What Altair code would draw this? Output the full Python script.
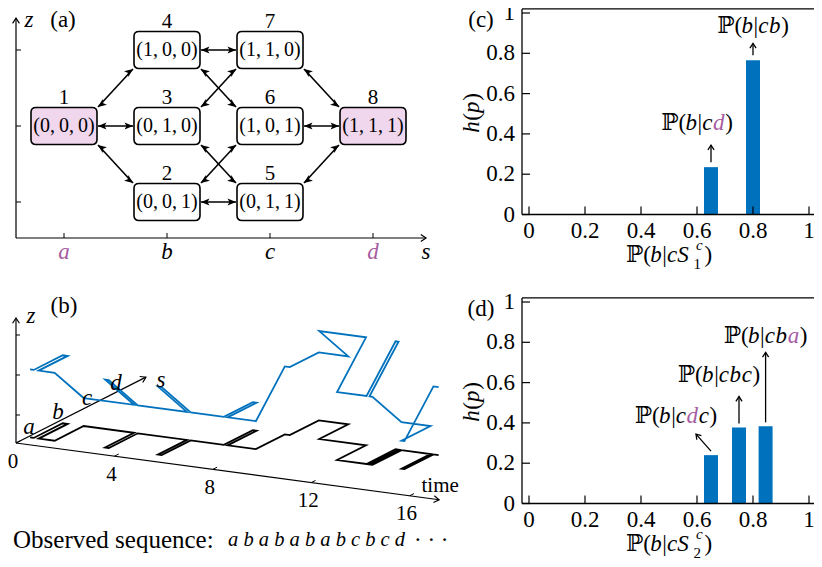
import math
import altair as alt
import pandas as pd

FONT = "Liberation Serif, DejaVu Serif"
BLACK = "#000000"
PURPLE = "#A65CA2"
PINK = "#F0D7EE"
BLUE = "#0072BD"
FS = 23

# ---------------- data ----------------
# (a) states: position on s (0=a ... 3=d) and level z
node_id = [1, 2, 3, 4, 5, 6, 7, 8]
node_s = [0, 1, 1, 1, 2, 2, 2, 3]
node_z = [2, 1, 2, 3, 1, 2, 3, 2]
node_bits = ["000", "001", "010", "100", "011", "101", "110", "111"]
node_marked = [1, 0, 0, 0, 0, 0, 0, 1]
edge_from = [1, 1, 1, 4, 3, 4, 3, 2, 2, 6, 7, 5]
edge_to = [2, 3, 4, 7, 7, 6, 5, 6, 5, 8, 8, 8]
s_names = ["a", "b", "c", "d"]
s_marked = [1, 0, 0, 1]
z_levels = [1, 2, 3]

# (b) sample path: jump times and the state entered at each jump
jump_times = [0.1, 0.25, 0.45, 1.1, 3.15, 3.3, 5.3, 5.45, 6.8, 6.95, 8.1, 8.3,
              9.5, 11.4, 12.6, 12.72, 12.84, 14.02, 14.14]
jump_nodes = [1, 3, 1, 2, 1, 2, 1, 2, 5, 2, 6, 8, 7, 3, 7, 3, 5, 2, 6]
t_end = 14.35
time_ticks = [0, 4, 8, 12, 16]
observed = ["a", "b", "a", "b", "a", "b", "a", "b", "c", "b", "c", "d"]

# (c), (d) histograms
c_p = [0.65, 0.80]
c_h = [0.235, 0.765]
c_cond = ["cd", "cb"]
c_cond_marked = ["01", "00"]
d_p = [0.65, 0.75, 0.845]
d_h = [0.24, 0.377, 0.383]
d_cond = ["cdc", "cbc", "cba"]
d_cond_marked = ["010", "000", "001"]
hist_ticks = [0, 0.2, 0.4, 0.6, 0.8, 1]

# ---------------- layout / helpers ----------------
W, H = 806, 559
OX, OY = 7, 3          # canvas offset
one = pd.DataFrame({"k": [0]})
STEALTH = "M0,0 L0.55,1.3 L0,1 L-0.55,1.3 Z"
CHEV = "M-0.65,1 L0,0 L0.65,1"
RBOX = ("M-0.85,-0.56 L0.85,-0.56 Q1,-0.56 1,-0.41 L1,0.41 Q1,0.56 0.85,0.56 "
        "L-0.85,0.56 Q-1,0.56 -1,0.41 L-1,-0.41 Q-1,-0.56 -0.85,-0.56 Z")

RM_W = {"(": .333, ")": .333, "|": .2, ",": .25, " ": .25, ".": .25, ":": .278,
        "\u2119": .72, "\u00b7": .25}
IT_W = {"a": .53, "b": .53, "c": .47, "d": .53, "h": .53, "p": .53, "s": .42,
        "z": .42, "S": .55}


def lin(d0, d1, r0, r1):
    return alt.Scale(domain=[d0, d1], range=[r0, r1], nice=False, zero=False)


def XD(v, sc):
    return alt.XDatum(v, scale=sc, axis=None)


def YD(v, sc):
    return alt.YDatum(v, scale=sc, axis=None)


def XF(f, sc):
    return alt.X(f, scale=sc, axis=None)


def YF(f, sc):
    return alt.Y(f, scale=sc, axis=None, stack=None)


def PX(v):
    return alt.value(v - OX)


def PY(v):
    return alt.value(v - OY)


def seg(t, it=False, col=BLACK, fs=None, ddy=0, adv=None):
    return dict(t=t, it=it, col=col, fs=fs, ddy=ddy, adv=adv)


def rich(segs, enc, fs=FS, dx=0.0, dy=0.0, angle=None):
    widths = []
    for s in segs:
        size = s["fs"] or fs
        if s["adv"] is not None:
            widths.append(s["adv"])
        else:
            tab = IT_W if s["it"] else RM_W
            widths.append(sum(tab.get(ch, .5) for ch in s["t"]) * size)
    x = dx - sum(widths) / 2
    out = []
    for s, w in zip(segs, widths):
        props = dict(text=s["t"], font=FONT, fontSize=s["fs"] or fs,
                     fontStyle="italic" if s["it"] else "normal", color=s["col"],
                     align="left", baseline="middle", dx=round(x, 2), dy=dy + s["ddy"])
        if angle is not None:
            props["angle"] = angle
        out.append(alt.Chart(one).mark_text(**props).encode(**enc))
        x += w
    return out


def txt(text, x, y, fs=FS, it=False, **kw):
    props = dict(text=text, font=FONT, fontSize=fs, baseline="middle", color=BLACK,
                 fontStyle="italic" if it else "normal")
    props.update(kw)
    return alt.Chart(one).mark_text(**props).encode(x=x, y=y)


def prob_label(cond, marked):
    segs = [seg("\u2119("), seg("b", True), seg("|")]
    for ch, m in zip(cond, marked):
        segs.append(seg(ch, True, PURPLE if m == "1" else BLACK))
    segs.append(seg(")"))
    return segs


L = []

# ---------------- panel (a) ----------------
SXA = lin(0, 3, 63 - OX, 372 - OX)
SYA = lin(1, 3, 197 - OY, 45 - OY)
kxA, kyA = (372 - 63) / 3, (197 - 45) / 2
A_S0, A_S1, A_Z0, A_Z1 = -0.466, 3.515, 0.526, 3.42

nodes = pd.DataFrame({
    "s": node_s, "z": node_z,
    "label": ["(" + ",\u2009".join(b) + ")" for b in node_bits],
    "num": [str(n) for n in node_id],
    "fill": [PINK if m else "#ffffff" for m in node_marked],
})
pos = {n: (s, z) for n, s, z in zip(node_id, node_s, node_z)}
erows = []
for f, t in zip(edge_from, edge_to):
    (s1, z1), (s2, z2) = pos[f], pos[t]
    ds, dz = s2 - s1, z2 - z1
    ang = math.degrees(math.atan2(ds * kxA, dz * kyA)) % 360
    erows.append(dict(xs=s1 + 0.33 * ds, ys=z1 + 0.25 * dz, xe=s2 - 0.33 * ds,
                      ye=z2 - 0.25 * dz, ae=ang, ab=(ang + 180) % 360))
edges = pd.DataFrame(erows)
sdf = pd.DataFrame({"s": list(range(len(s_names))), "name": s_names,
                    "col": [PURPLE if m else BLACK for m in s_marked]})
zdf = pd.DataFrame({"z": z_levels})

L += [
    alt.Chart(one).mark_rule(color=BLACK, strokeWidth=1.2).encode(
        x=XD(A_S0, SXA), y=YD(A_Z0, SYA), y2=alt.datum(A_Z1)),
    alt.Chart(one).mark_rule(color=BLACK, strokeWidth=1.2).encode(
        x=XD(A_S0, SXA), x2=alt.datum(A_S1), y=YD(A_Z0, SYA)),
    alt.Chart(one).mark_point(shape=CHEV, size=110, filled=False, stroke=BLACK,
                              strokeWidth=1.2, opacity=1, angle=0).encode(
        x=XD(A_S0, SXA), y=YD(A_Z1, SYA)),
    alt.Chart(one).mark_point(shape=CHEV, size=110, filled=False, stroke=BLACK,
                              strokeWidth=1.2, opacity=1, angle=90).encode(
        x=XD(A_S1, SXA), y=YD(A_Z0, SYA)),
    alt.Chart(sdf).mark_rule(color=BLACK, strokeWidth=1).encode(
        x=XF("s:Q", SXA), y=YD(A_Z0, SYA), y2=alt.datum(A_Z0 + 5 / kyA)),
    alt.Chart(zdf).mark_rule(color=BLACK, strokeWidth=1).encode(
        y=YF("z:Q", SYA), x=XD(A_S0, SXA), x2=alt.datum(A_S0 + 5 / kxA)),
    alt.Chart(sdf).mark_text(font=FONT, fontSize=FS, fontStyle="italic", baseline="middle",
                             dy=14).encode(x=XF("s:Q", SXA), y=YD(A_Z0, SYA), text="name:N",
                                           color=alt.Color("col:N", scale=None)),
    txt("s", XD(A_S1, SXA), YD(A_Z0, SYA), it=True, dy=14),
    txt("z", XD(A_S0, SXA), YD(A_Z1, SYA), it=True, dx=13, dy=2),
    txt("(a)", PX(62), PY(15)),
    alt.Chart(edges).mark_rule(color=BLACK, strokeWidth=1.6).encode(
        x=XF("xs:Q", SXA), y=YF("ys:Q", SYA), x2="xe:Q", y2="ye:Q"),
    alt.Chart(edges).mark_point(shape=STEALTH, size=170, filled=True, color=BLACK,
                                opacity=1).encode(x=XF("xe:Q", SXA), y=YF("ye:Q", SYA),
                                                  angle=alt.Angle("ae:Q", scale=None)),
    alt.Chart(edges).mark_point(shape=STEALTH, size=170, filled=True, color=BLACK,
                                opacity=1).encode(x=XF("xs:Q", SXA), y=YF("ys:Q", SYA),
                                                  angle=alt.Angle("ab:Q", scale=None)),
    alt.Chart(nodes).mark_point(shape=RBOX, size=66 ** 2, filled=True, stroke=BLACK,
                                strokeWidth=1.6, opacity=1).encode(
        x=XF("s:Q", SXA), y=YF("z:Q", SYA), fill=alt.Fill("fill:N", scale=None)),
    alt.Chart(nodes).mark_text(font=FONT, fontSize=20, baseline="middle", color=BLACK).encode(
        x=XF("s:Q", SXA), y=YF("z:Q", SYA), text="label:N"),
    alt.Chart(nodes).mark_text(font=FONT, fontSize=21, baseline="middle", color=BLACK,
                               dy=-28).encode(x=XF("s:Q", SXA), y=YF("z:Q", SYA),
                                              text="num:N"),
]

# ---------------- panel (b) ----------------
SXB = lin(0, 100, 15 - OX, 115 - OX)
SYB = lin(0, 100, 438 - OY, 338 - OY)
PT, PS, PZ = (24.6, -3.3), (29.0, 14.7), 40.0


def proj(t, sc, zc):
    return (PT[0] * t + PS[0] * sc, PT[1] * t + PS[1] * sc + PZ * zc)


times = jump_times + [t_end]
prow = []
for i, n in enumerate(jump_nodes):
    s, z = node_s[n - 1], node_z[n - 1]
    for t in (times[i], times[i + 1]):
        X, Yb = proj(t, s + 0.4, 0)
        prow.append(dict(i=len(prow), X=X, Yb=Yb, Yz=Yb + PZ * (z - 0.3)))
path = pd.DataFrame(prow)

T_AX, S_AX, Z_AX = 17.2, 4.48, 3.125
ax_rows = []
for end in (proj(T_AX, 0, 0), proj(0, S_AX, 0), proj(0, 0, Z_AX)):
    ang = math.degrees(math.atan2(end[0], end[1])) % 360
    ax_rows.append(dict(x0=0.0, y0=0.0, x1=end[0], y1=end[1], ang=ang))
axb = pd.DataFrame(ax_rows)
tt = pd.DataFrame([dict(lab=str(t), X=proj(t, 0, 0)[0], Y=proj(t, 0, 0)[1],
                        X2=proj(t, 0.15, 0)[0], Y2=proj(t, 0.15, 0)[1]) for t in time_ticks])
sb = pd.DataFrame([dict(name=nm, X=proj(0, k + 0.4, 0)[0], Y=proj(0, k + 0.4, 0)[1])
                   for k, nm in enumerate(s_names)])
zb = pd.DataFrame([dict(X=proj(0, 0, z - 0.3)[0], Y=proj(0, 0, z - 0.3)[1]) for z in z_levels])
te, se, ze = proj(T_AX, 0, 0), proj(0, S_AX, 0), proj(0, 0, Z_AX)

L += [
    alt.Chart(axb).mark_rule(color=BLACK, strokeWidth=1.2).encode(
        x=XF("x0:Q", SXB), y=YF("y0:Q", SYB), x2="x1:Q", y2="y1:Q"),
    alt.Chart(axb).mark_point(shape=CHEV, size=110, filled=False, stroke=BLACK,
                              strokeWidth=1.2, opacity=1).encode(
        x=XF("x1:Q", SXB), y=YF("y1:Q", SYB), angle=alt.Angle("ang:Q", scale=None)),
    alt.Chart(tt).mark_rule(color=BLACK, strokeWidth=1).encode(
        x=XF("X:Q", SXB), y=YF("Y:Q", SYB), x2="X2:Q", y2="Y2:Q"),
    alt.Chart(zb).mark_rule(color=BLACK, strokeWidth=1, x2Offset=4).encode(
        x=XF("X:Q", SXB), y=YF("Y:Q", SYB), x2="X:Q"),
    alt.Chart(path).mark_line(color=BLACK, strokeWidth=1.8).encode(
        x=XF("X:Q", SXB), y=YF("Yb:Q", SYB), order="i:Q"),
    alt.Chart(path).mark_line(color=BLUE, strokeWidth=1.8).encode(
        x=XF("X:Q", SXB), y=YF("Yz:Q", SYB), order="i:Q"),
    alt.Chart(tt).mark_text(font=FONT, fontSize=21, baseline="middle", dx=-3, dy=18.5,
                            color=BLACK).encode(x=XF("X:Q", SXB), y=YF("Y:Q", SYB),
                                                text="lab:N"),
    alt.Chart(sb).mark_text(font=FONT, fontSize=FS, fontStyle="italic", baseline="middle",
                            dx=1.5, dy=-10, color=BLACK).encode(
        x=XF("X:Q", SXB), y=YF("Y:Q", SYB), text="name:N"),
    txt("s", XD(se[0], SXB), YD(se[1], SYB), it=True, dx=15, dy=3),
    txt("z", XD(ze[0], SXB), YD(ze[1], SYB), it=True, dx=15, dy=-2),
    txt("time", XD(te[0], SXB), YD(te[1], SYB), fs=21, dx=1, dy=-14),
    txt("(b)", PX(63), PY(301)),
    txt("Observed sequence:", PX(12), PY(535), fs=25, align="left"),
    txt(" ".join(observed), PX(227), PY(535), fs=20.5, it=True, align="left"),
    txt("\u00b7 \u00b7 \u00b7", PX(413), PY(535), align="left"),
]

# ---------------- panels (c), (d) ----------------
tdf = pd.DataFrame({"v": hist_ticks, "lab": [f"{v:g}" for v in hist_ticks]})
C_X0, C_X1, C_Y1 = -0.025, 1.06, 1.02


def hist_panel(ps, hs, conds, marks, sub, tag, top, ann):
    SX = lin(0, 1, 528 - OX, 808 - OX)
    SY = lin(0, 1, top + 204.5 - OY, top + 3 - OY)
    df = pd.DataFrame({"p": ps, "h": hs})
    out = [
        alt.Chart(df).transform_calculate(pl="datum.p - 0.025", pr="datum.p + 0.025")
        .mark_bar(color=BLUE).encode(x=XF("pl:Q", SX), x2="pr:Q", y=YF("h:Q", SY),
                                     y2=alt.datum(0)),
        alt.Chart(one).mark_rule(color=BLACK, strokeWidth=1.3).encode(
            x=XD(C_X0, SX), x2=alt.datum(C_X1), y=YD(0, SY)),
        alt.Chart(one).mark_rule(color=BLACK, strokeWidth=1.3).encode(
            x=XD(C_X0, SX), y=YD(0, SY), y2=alt.datum(C_Y1)),
        alt.Chart(one).mark_rule(color=BLACK, strokeWidth=1.3).encode(
            x=XD(C_X0, SX), x2=alt.datum(C_X1), y=YD(C_Y1, SY)),
        alt.Chart(tdf).mark_rule(color=BLACK, strokeWidth=1.2, y2Offset=-8).encode(
            x=XF("v:Q", SX), y=YD(0, SY), y2=alt.datum(0)),
        alt.Chart(tdf).mark_rule(color=BLACK, strokeWidth=1.2, x2Offset=8).encode(
            y=YF("v:Q", SY), x=XD(C_X0, SX), x2=alt.datum(C_X0)),
        alt.Chart(tdf).mark_text(font=FONT, fontSize=FS, baseline="middle", dy=16,
                                 color=BLACK).encode(x=XF("v:Q", SX), y=YD(0, SY),
                                                     text="lab:N"),
        alt.Chart(tdf).mark_text(font=FONT, fontSize=FS, baseline="middle", align="right",
                                 dx=-7, color=BLACK).encode(y=YF("v:Q", SY), x=XD(C_X0, SX),
                                                            text="lab:N"),
        txt(tag, PX(480), PY(top + 10)),
    ]
    for p, h, cond, mk, a in zip(ps, hs, conds, marks, ann):
        tdx, tdy, ax0, ay0, ax1, ay1 = a
        ang = math.degrees(math.atan2(ax1 - ax0, -(ay1 - ay0))) % 360
        out.append(alt.Chart(one).mark_rule(
            color=BLACK, strokeWidth=1.3, xOffset=ax0, yOffset=ay0, x2Offset=ax1,
            y2Offset=ay1).encode(x=XD(p, SX), y=YD(h, SY), x2=alt.datum(p), y2=alt.datum(h)))
        out.append(alt.Chart(one).mark_point(
            shape=CHEV, size=90, filled=False, stroke=BLACK, strokeWidth=1.3, opacity=1,
            angle=round(ang, 2), xOffset=ax1, yOffset=ay1).encode(x=XD(p, SX), y=YD(h, SY)))
        out += rich(prob_label(cond, mk), dict(x=XD(p, SX), y=YD(h, SY)), dx=tdx, dy=tdy)
    xt = [seg("\u2119("), seg("b", True), seg("|"), seg("cS", True, adv=26.5),
          seg(sub, False, fs=15, ddy=9, adv=2.5), seg("c", True, fs=15, ddy=-10, adv=8.5),
          seg(")")]
    out += rich(xt, dict(x=PX(668), y=PY(top + 245)))
    yt = [seg("h", True), seg("("), seg("p", True), seg(")")]
    out += rich(yt, dict(x=PX(471), y=PY(top + 103)), angle=270)
    return out


L += hist_panel(c_p, c_h, c_cond, c_cond_marked, "1", "(c)", 5,
                [(-14, -44, 0, -5, 0, -22), (0, -34, 0, -5, 0, -17)])
L += hist_panel(d_p, d_h, d_cond, d_cond_marked, "2", "(d)", 294,
                [(-35, -39, 0, -4, -15, -21), (-20, -53, 0, -4, 0, -31),
                 (0, -90, 0, -4, 0, -74)])

chart = (alt.layer(*L)
         .resolve_scale(x="independent", y="independent")
         .properties(width=W, height=H, padding=0,
                     autosize=alt.AutoSizeParams(type="none"))
         .configure_view(stroke=None))

chart.save("out.html", embed_options={"renderer": "svg", "actions": False})
